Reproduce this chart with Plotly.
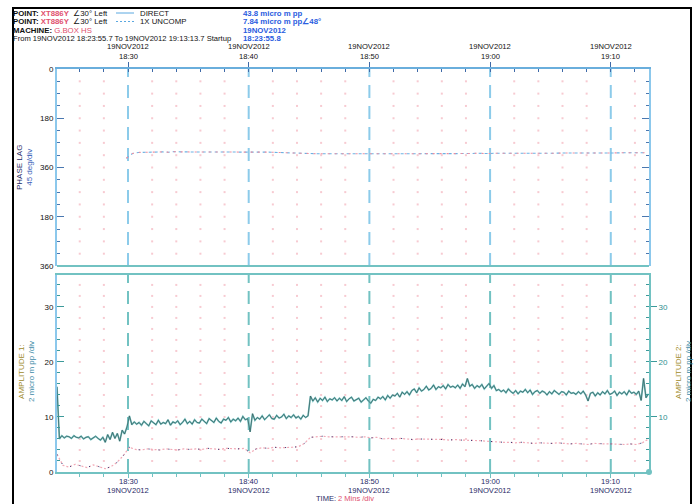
import pandas as pd
import plotly.graph_objects as go

# ---------------------------------------------------------------- data
START = "2012-11-19 18:24:07"
END = "2012-11-19 19:13:10"

# DIRECT amplitude (micro m pp), one sample every 12 s, five per row = one minute
direct_amp = [
    15.5, 6.0, 6.6, 6.2, 6.5,   # 18:24
    6.4, 6.1, 6.6, 6.3, 6.2,    # 18:25
    6.5, 6.0, 6.3, 6.4, 5.9,    # 18:26
    6.2, 6.5, 6.1, 5.8, 6.3,    # 18:27
    5.4, 6.8, 5.9, 7.2, 6.1,    # 18:28
    7.0, 5.6, 7.6, 6.9, 8.2,    # 18:29
    10.2, 8.6, 9.1, 8.7, 9.0,   # 18:30
    8.5, 9.2, 8.8, 8.4, 9.3,    # 18:31
    8.9, 8.6, 9.4, 8.7, 9.0,    # 18:32
    8.8, 9.5, 8.5, 9.1, 8.9,    # 18:33
    9.3, 8.6, 9.0, 9.6, 8.8,    # 18:34
    9.2, 8.7, 9.5, 9.0, 8.9,    # 18:35
    9.6, 9.1, 8.8, 9.7, 9.3,    # 18:36
    9.0, 9.8, 9.2, 8.9, 9.6,    # 18:37
    9.4, 9.9, 9.1, 9.6, 9.3,    # 18:38
    9.8, 9.2, 10.1, 9.5, 9.7,   # 18:39
    7.3, 10.6, 9.4, 9.9, 9.6,   # 18:40
    10.2, 9.5, 9.9, 10.4, 9.7,  # 18:41
    9.6, 10.3, 9.8, 10.0, 10.5, # 18:42
    9.7, 10.2, 9.9, 10.4, 9.8,  # 18:43
    10.1, 9.6, 10.3, 9.9, 10.2, # 18:44
    13.8, 12.9, 13.5, 12.7, 13.4,  # 18:45
    13.0, 13.6, 12.8, 13.3, 13.1,  # 18:46
    13.5, 12.9, 13.4, 13.0, 13.7,  # 18:47
    12.8, 13.3, 13.6, 12.9, 13.2,  # 18:48
    13.4, 12.7, 13.1, 13.5, 12.9,  # 18:49
    12.5, 13.2, 13.0, 13.6, 13.3,  # 18:50
    13.7, 13.1, 13.9, 13.4, 14.0,  # 18:51
    13.8, 14.3, 13.6, 14.5, 14.1,  # 18:52
    14.6, 14.0, 14.8, 15.1, 14.4,  # 18:53
    15.3, 14.7, 15.0, 15.6, 14.9,  # 18:54
    15.2, 15.8, 15.0, 15.5, 15.3,  # 18:55
    15.7, 15.1, 15.9, 15.4, 15.6,  # 18:56
    15.3, 15.8, 15.2, 16.0, 15.5,  # 18:57
    17.0, 15.6, 15.9, 15.2, 15.7,  # 18:58
    15.4, 15.9, 15.1, 15.6, 16.1,  # 18:59
    15.2, 15.7, 14.8, 15.0, 14.6,  # 19:00
    14.9, 14.4, 15.1, 14.6, 14.3,  # 19:01
    14.8, 14.2, 14.7, 14.5, 15.0,  # 19:02
    14.4, 14.9, 14.1, 14.6, 14.8,  # 19:03
    14.3, 14.7, 14.5, 14.0, 14.6,  # 19:04
    14.2, 14.8, 14.4, 14.1, 14.6,  # 19:05
    14.5, 14.0, 14.7, 14.3, 14.4,  # 19:06
    14.1, 14.6, 14.2, 14.7, 14.0,  # 19:07
    12.9, 14.3, 14.5, 13.8, 14.4,  # 19:08
    14.0, 14.6, 14.2, 14.8, 14.1,  # 19:09
    14.3, 14.7, 13.9, 14.5, 14.2,  # 19:10
    14.6, 14.0, 14.8, 14.3, 14.5,  # 19:11
    14.1, 14.7, 13.0, 17.0, 13.5,  # 19:12
    14.2,                          # 19:13
]

# 1X UNCOMP amplitude (micro m pp), one sample every 30 s
onex_amp = [
    3.2, 1.2, 0.9, 1.4, 1.1, 0.8, 1.3, 0.9, 0.6, 1.0,   # 18:24 - 18:28
    1.8, 3.0, 4.5, 4.1, 4.0, 4.2, 4.1, 4.0, 4.2, 4.1,   # 18:29 - 18:33
    4.0, 4.2, 4.1, 4.2, 4.1, 4.3, 4.2, 4.1, 4.3, 4.2,   # 18:34 - 18:38
    4.2, 4.3, 3.5, 4.2, 4.4, 4.3, 4.5, 4.4, 4.4, 4.5,   # 18:39 - 18:43
    4.6, 5.2, 6.3, 6.4, 6.5, 6.4, 6.4, 6.5, 6.5, 6.4,   # 18:44 - 18:48
    6.3, 6.4, 6.2, 6.3, 6.0, 6.1, 6.0, 6.1, 6.0, 5.9,   # 18:49 - 18:53
    6.0, 6.0, 5.9, 6.0, 5.9, 5.8, 5.9, 5.8, 5.8, 5.7,   # 18:54 - 18:58
    5.7, 5.6, 5.5, 5.5, 5.4, 5.4, 5.3, 5.4, 5.3, 5.2,   # 18:59 - 19:03
    5.3, 5.2, 5.2, 5.3, 5.2, 5.1, 5.2, 5.1, 5.0, 5.2,   # 19:04 - 19:08
    5.1, 5.1, 5.1, 5.0, 5.0, 5.1, 5.0, 5.3, 6.0,        # 19:09 - 19:13
]

# 1X phase lag (deg), one sample every 30 s from 18:29:52
PHASE_START = "2012-11-19 18:29:52"
onex_phase = [
    326, 309, 305, 304, 303, 304, 303, 304, 302, 303,
    303, 304, 302, 303, 304, 302, 303, 303, 302, 304,
    303, 302, 303, 303, 304, 305, 306, 307, 308, 309,
    309, 310, 310, 310, 311, 310, 310, 311, 310, 310,
    310, 311, 310, 310, 311, 310, 310, 309, 310, 310,
    309, 310, 309, 309, 310, 309, 309, 309, 308, 309,
    309, 308, 309, 308, 308, 309, 308, 308, 307, 308,
    308, 307, 308, 307, 307, 308, 307, 307, 306, 307,
    307, 306, 307, 306, 306, 307, 306,
]

# axis labelling
major_times = ["2012-11-19 18:30", "2012-11-19 18:40", "2012-11-19 18:50",
               "2012-11-19 19:00", "2012-11-19 19:10"]
major_clock = ["18:30", "18:40", "18:50", "19:00", "19:10"]
date_label = "19NOV2012"
phase_ticks = [0, 180, 360, 540, 720]
phase_labels = ["0", "180", "360", "180", "360"]
amp_ticks = [0, 10, 20, 30]

# ---------------------------------------------------------------- geometry
W, H = 699, 504
L, R, T, B = 57, 50, 69, 32
PW, PH = W - L - R, H - T - B


def px(x):
    return (x - L) / PW


def py(y):
    return (H - B - y) / PH


PHASE_DOM = [py(266), 1.0]
AMP_DOM = [0.0, py(275)]
AMP_MAX = 35.8

FONT = "Liberation Sans, Arial, sans-serif"
TEAL = "#72c2c2"
LBLUE = "#8cc8ec"
BLUE = "#6aaedc"
PINK = "#f2a9b6"
NAVY = "#1f2a66"
RED = "#e0506e"
VBLUE = "#2a5ce0"

direct_t = pd.date_range(START, periods=len(direct_amp), freq="12s")
onex_t = pd.date_range(START, periods=len(onex_amp), freq="30s")
phase_t = pd.date_range(PHASE_START, periods=len(onex_phase), freq="30s")

fig = go.Figure()

# dotted background grid (one dot per minor division)
grid_t = [t for t in pd.date_range("2012-11-19 18:26", "2012-11-19 19:12", freq="2min")
          if t.minute % 10 != 0]
ph_gx = [t for t in grid_t for _ in range(45, 720, 45)]
ph_gy = [v for _ in grid_t for v in range(45, 720, 45)]
am_gx = [t for t in grid_t for _ in range(2, 36, 2)]
am_gy = [v for _ in grid_t for v in range(2, 36, 2)]
fig.add_trace(go.Scatter(x=ph_gx, y=ph_gy, xaxis="x2", yaxis="y", mode="markers",
                         marker=dict(symbol="square", size=2, color="#f7cad1"),
                         hoverinfo="skip", showlegend=False))
fig.add_trace(go.Scatter(x=am_gx, y=am_gy, xaxis="x", yaxis="y2", mode="markers",
                         marker=dict(symbol="square", size=2, color="#f7cad1"),
                         hoverinfo="skip", showlegend=False))

# phase lag: 1X uncomp
fig.add_trace(go.Scatter(x=phase_t, y=onex_phase, xaxis="x2", yaxis="y", mode="lines",
                         line=dict(color="#6cb2e4", width=1.1, dash="3px,3px"),
                         showlegend=False))
fig.add_trace(go.Scatter(x=phase_t, y=onex_phase, xaxis="x2", yaxis="y", mode="lines",
                         line=dict(color="#ef8ea0", width=1.1, dash="2px,5px"),
                         showlegend=False))

# amplitude: DIRECT
fig.add_trace(go.Scatter(x=direct_t, y=direct_amp, xaxis="x", yaxis="y2", mode="lines",
                         line=dict(color=TEAL, width=1.7), showlegend=False))
fig.add_trace(go.Scatter(x=direct_t, y=direct_amp, xaxis="x", yaxis="y2", mode="lines",
                         line=dict(color="#101010", width=0.7), opacity=0.6,
                         showlegend=False))

# amplitude: 1X uncomp (right hand scale)
fig.add_trace(go.Scatter(x=onex_t, y=onex_amp, xaxis="x", yaxis="y3", mode="lines",
                         line=dict(color=PINK, width=1.2, dash="2px,2px"),
                         showlegend=False))
fig.add_trace(go.Scatter(x=onex_t, y=onex_amp, xaxis="x", yaxis="y3", mode="lines",
                         line=dict(color="#2a3070", width=1.0, dash="1px,9px"),
                         showlegend=False))

tickfont = dict(family=FONT, size=8, color="#111111")

fig.update_layout(
    width=W, height=H,
    margin=dict(l=L, r=R, t=T, b=B),
    paper_bgcolor="white", plot_bgcolor="white",
    font=dict(family=FONT, size=8, color="#111111"),
    xaxis=dict(
        anchor="y2", range=[START, END], type="date",
        tickvals=major_times, showticklabels=False,
        ticks="outside", ticklen=4, tickcolor=TEAL, tickwidth=1,
        minor=dict(dtick=120000, ticks="outside", ticklen=3, tickcolor=TEAL),
        showline=True, linecolor=TEAL, linewidth=2, mirror=True,
        showgrid=False, zeroline=False,
    ),
    xaxis2=dict(
        anchor="y", side="top", matches="x", range=[START, END], type="date",
        tickvals=major_times, showticklabels=False,
        ticks="outside", ticklen=5, tickcolor="#3f6aa8", tickwidth=1,
        minor=dict(dtick=120000, ticks="inside", ticklen=3, tickcolor="#3f6aa8"),
        showline=True, linecolor=BLUE, linewidth=2, mirror=False,
        showgrid=False, zeroline=False,
    ),
    yaxis=dict(
        domain=PHASE_DOM, anchor="x2", range=[720, 0],
        tickvals=phase_ticks, ticktext=phase_labels, tickfont=tickfont,
        ticks="inside", ticklen=7, tickcolor="#4a78b0", tickwidth=1,
        minor=dict(dtick=45, ticks="inside", ticklen=3, tickcolor="#4a78b0"),
        showline=True, linecolor=LBLUE, linewidth=2, mirror="ticks",
        showgrid=False, zeroline=False,
    ),
    yaxis2=dict(
        domain=AMP_DOM, anchor="x", range=[0, AMP_MAX],
        tickvals=amp_ticks, tickfont=tickfont,
        ticks="inside", ticklen=7, tickcolor="#3c9a9a", tickwidth=1,
        minor=dict(dtick=2, ticks="inside", ticklen=3, tickcolor="#3c9a9a"),
        showline=True, linecolor=LBLUE, linewidth=2,
        showgrid=False, zeroline=False,
    ),
    yaxis3=dict(
        overlaying="y2", side="right", anchor="x", range=[0, AMP_MAX],
        tickvals=[10, 20, 30], tickfont=dict(family=FONT, size=8, color="#2f8f8f"),
        ticks="outside", ticklen=6, tickcolor="#3c9a9a", tickwidth=1,
        minor=dict(dtick=2, ticks="inside", ticklen=3, tickcolor="#3c9a9a"),
        showline=True, linecolor=TEAL, linewidth=2,
        showgrid=False, zeroline=False,
    ),
)

# ten minute dashed markers
for t in major_times:
    fig.add_shape(type="line", xref="x2", yref="y domain", x0=t, x1=t, y0=0, y1=1,
                  line=dict(color="#8ccbea", width=2, dash="13px,8px"), layer="below")
    fig.add_shape(type="line", xref="x", yref="y2 domain", x0=t, x1=t, y0=0, y1=1,
                  line=dict(color=TEAL, width=2, dash="13px,8px"), layer="below")

# lower edge of the phase panel
fig.add_shape(type="line", xref="paper", yref="paper", x0=0, x1=1,
              y0=PHASE_DOM[0], y1=PHASE_DOM[0], line=dict(color=TEAL, width=2))
# corner marker of the amplitude scale
fig.add_shape(type="circle", xref="paper", yref="paper",
              x0=px(646), x1=px(652), y0=py(475), y1=py(469),
              fillcolor=TEAL, line=dict(color=TEAL, width=0))
# outer frame
fig.add_shape(type="rect", xref="paper", yref="paper",
              x0=px(13), x1=px(691), y0=py(530), y1=py(8),
              line=dict(color="#000000", width=2))


def note(x, y, text, color="#111111", size=8, xanchor="left", angle=0, yanchor="middle"):
    fig.add_annotation(xref="paper", yref="paper", x=px(x), y=py(y), text=text,
                       showarrow=False, xanchor=xanchor, yanchor=yanchor,
                       textangle=angle, borderpad=0,
                       font=dict(family=FONT, size=size, color=color))


def span(text, color):
    return f"<span style='color:{color}'>{text}</span>"


# time labels above the phase panel and below the amplitude panel
for t, clock in zip(major_times, major_clock):
    for xr, y, txt, col in (("x2", 46, date_label, "#111111"), ("x2", 56.5, clock, "#111111"),
                            ("x", 481, clock, NAVY), ("x", 490, date_label, NAVY)):
        fig.add_annotation(xref=xr, yref="paper", x=t, y=py(y), text=txt, showarrow=False,
                           xanchor="center", yanchor="middle", borderpad=0,
                           font=dict(family=FONT, size=7.6, color=col))

# header block
note(12, 13, "<b>POINT:</b> " + span("<b>XT886Y</b>", RED) + "  ∠30° Left", size=7.8)
note(12, 21.5, "<b>POINT:</b> " + span("<b>XT886Y</b>", RED) + "  ∠30° Left", size=7.8)
note(12, 30, "<b>MACHINE:</b> " + span("G.BOX HS", RED), size=7.8)
note(12, 38.5, "From 19NOV2012 18:23:55.7 To 19NOV2012 19:13:13.7 Startup", size=7.6)
note(139, 13, "DIRECT", size=7.8)
note(139, 21.5, "1X UNCOMP", size=7.8)
note(242, 13, "<b>43.8 micro m pp</b>", color=VBLUE, size=7.8)
note(242, 21.5, "<b>7.84 micro m pp∠48°</b>", color=VBLUE, size=7.8)
note(242, 30, "<b>19NOV2012</b>", color=VBLUE, size=7.8)
note(242, 38.5, "<b>18:23:55.8</b>", color=VBLUE, size=7.8)
fig.add_shape(type="line", xref="paper", yref="paper", x0=px(116), x1=px(134),
              y0=py(13), y1=py(13), line=dict(color="#5aa8e0", width=1))
fig.add_shape(type="line", xref="paper", yref="paper", x0=px(116), x1=px(134),
              y0=py(21.5), y1=py(21.5), line=dict(color="#5aa8e0", width=1, dash="2px,2px"))

# axis titles
note(24, 168, span("PHASE LAG", NAVY) + "<br>" + span("45 deg/div", "#3a62b8"),
     xanchor="center", angle=-90)
note(26, 372, span("AMPLITUDE 1:", "#a08a2a") + "<br>" + span("2 micro m pp /div", "#3e8ca8"),
     xanchor="center", angle=-90)
note(683, 372, span("AMPLITUDE 2:", "#a08a2a") + "<br>" + span("2 micro m pp /div", "#3e8ca8"),
     xanchor="center", angle=-90)
note(345, 503.5, span("TIME:", NAVY) + " " + span("2 Mins /div", RED), xanchor="center",
     yanchor="bottom", size=7.5)

fig.write_html("out.html")
